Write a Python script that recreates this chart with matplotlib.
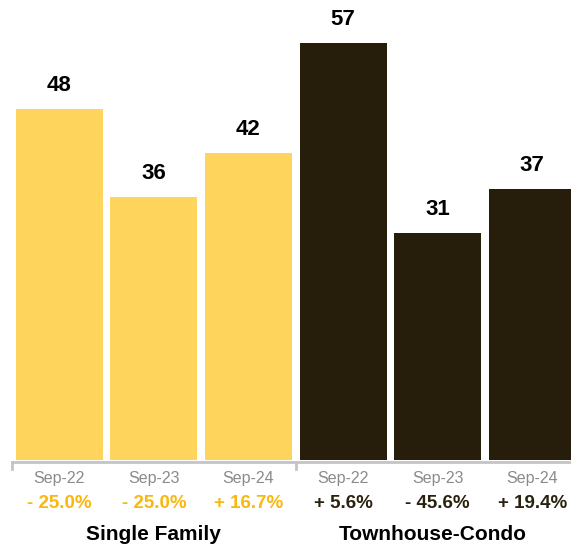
import matplotlib.pyplot as plt
from matplotlib.lines import Line2D

plt.rcParams['font.family'] = ['Liberation Sans', 'DejaVu Sans']

periods = ['Sep-22', 'Sep-23', 'Sep-24']
groups = ['Single Family', 'Townhouse-Condo']
single_family = [48, 36, 42]
townhouse_condo = [57, 31, 37]
sf_change = ['- 25.0%', '- 25.0%', '+ 16.7%']
tc_change = ['+ 5.6%', '- 45.6%', '+ 19.4%']

yellow = '#FFD45C'
dark = '#261E0A'
yellow_text = '#F9B70F'
dark_text = '#2A2210'

W, H = 571, 549
fig = plt.figure(figsize=(W / 100, H / 100), dpi=100)
ax = fig.add_axes([12 / W, (H - 462) / H, 1 - 12 / W, (462 - 20) / H])

values = single_family + townhouse_condo
colors = [yellow] * 3 + [dark] * 3
xs = list(range(6))
ax.bar(xs, values, width=0.92, color=colors, bottom=0)
ax.set_xlim(-0.5, 5.41)
ax.set_ylim(-0.3, 60.2)
ax.axis('off')

for x, v in zip(xs, values):
    ax.annotate(str(v), (x, v), xytext=(0, 17), textcoords='offset points',
                ha='center', va='center', fontsize=16, fontweight='bold', color='black')

# axis line with ticks
line_y = (H - 462) / H
fig.add_artist(Line2D([12 / W, 1], [line_y, line_y], color='#C4C4C4', lw=2))
for px in [12, 296]:
    fig.add_artist(Line2D([px / W, px / W], [line_y, (H - 469) / H], color='#C4C4C4', lw=2))

labels = periods + periods
changes = sf_change + tc_change
change_colors = [yellow_text] * 3 + [dark_text] * 3
for x, lab, ch, c in zip(xs, labels, changes, change_colors):
    xf = ax.transData.transform((x, 0))[0] / W
    fig.text(xf, (H - 479) / H, lab, ha='center', va='center', fontsize=11.5, color='#8A8A8A')
    fig.text(xf, (H - 503) / H, ch, ha='center', va='center', fontsize=13.5,
             fontweight='bold', color=c)

fig.text(153 / W, (H - 535) / H, groups[0], ha='center', va='center', fontsize=15,
         fontweight='bold', color='black')
fig.text(433 / W, (H - 535) / H, groups[1], ha='center', va='center', fontsize=15,
         fontweight='bold', color='black')

fig.savefig('out.png', dpi=100)
